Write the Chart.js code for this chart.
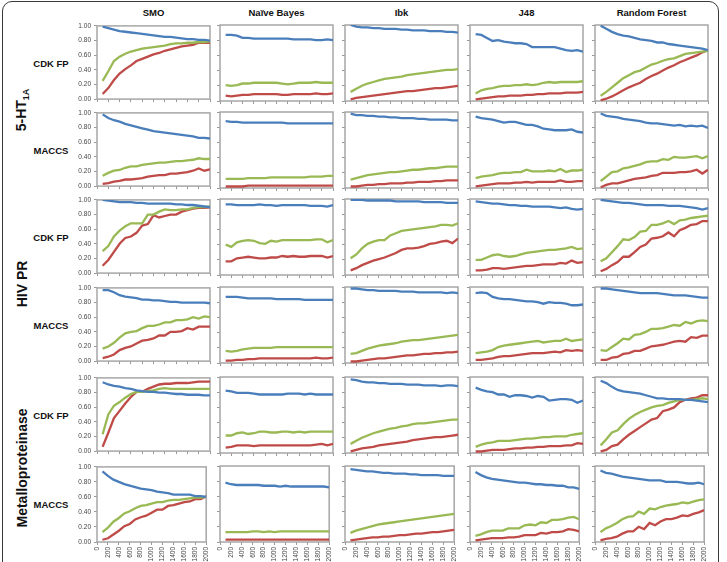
<!DOCTYPE html>
<html>
<head>
<meta charset="utf-8">
<script src="https://cdn.jsdelivr.net/npm/chart.js@4"></script>
<style>
  body { margin: 0; background: #fff; font-family: "Liberation Sans", Arial, sans-serif; }
  #wrap { position: relative; width: 727px; height: 562px; overflow: hidden; }
  #frame { position: absolute; left: 2px; top: 1px; width: 717px; height: 600px;
           border: 1.5px solid #3a3a3a; border-radius: 10px; box-sizing: border-box; }
  canvas { position: absolute; }
  .lbl { position: absolute; font-weight: bold; color: #111; white-space: nowrap; }
  .head { font-size: 9.5px; transform: translate(-50%, -50%); }
  .fp { font-size: 9.5px; transform: translate(-50%, -50%); }
  .target { font-size: 14px; transform: translate(-50%, -50%) rotate(-90deg); }
  sub { font-size: 9px; vertical-align: -3px; }
</style>
</head>
<body>
<div id="wrap"><div id="frame"></div></div>
<script>
// training set sizes (x) and labels
const xValues = [100, 200, 300, 400, 500, 600, 700, 800, 900, 1000, 1100, 1200, 1300, 1400, 1500, 1600, 1700, 1800, 1900, 2000];
const classifiers = ['SMO', 'Naïve Bayes', 'Ibk', 'J48', 'Random Forest'];
const targets = ['5-HT<sub>1A</sub>', 'HIV PR', 'Metalloproteinase'];
const fingerprints = ['CDK FP', 'MACCS'];

// rows: 5-HT1A CDK, 5-HT1A MACCS, HIV CDK, HIV MACCS, Metallo CDK, Metallo MACCS
const smoBlue = [
  [0.99,0.97,0.95,0.93,0.92,0.91,0.90,0.89,0.88,0.87,0.86,0.85,0.85,0.84,0.83,0.82,0.82,0.81,0.81,0.80],
  [0.98,0.93,0.90,0.88,0.85,0.83,0.81,0.79,0.77,0.75,0.74,0.73,0.72,0.71,0.70,0.69,0.68,0.66,0.66,0.65],
  [1.00,0.99,0.98,0.97,0.97,0.97,0.96,0.96,0.95,0.95,0.95,0.95,0.95,0.94,0.94,0.93,0.93,0.92,0.91,0.90],
  [0.97,0.97,0.94,0.90,0.88,0.87,0.86,0.84,0.84,0.83,0.83,0.82,0.81,0.81,0.80,0.80,0.80,0.80,0.80,0.79],
  [0.94,0.91,0.89,0.88,0.86,0.85,0.83,0.82,0.81,0.81,0.80,0.80,0.79,0.78,0.78,0.77,0.77,0.77,0.76,0.76],
  [0.94,0.88,0.83,0.80,0.77,0.75,0.73,0.71,0.70,0.69,0.67,0.66,0.65,0.63,0.63,0.63,0.63,0.61,0.61,0.60]
];
const smoGreen = [
  [0.25,0.38,0.52,0.58,0.62,0.65,0.67,0.69,0.70,0.71,0.72,0.73,0.75,0.76,0.76,0.77,0.77,0.78,0.78,0.79],
  [0.14,0.18,0.21,0.22,0.25,0.27,0.27,0.29,0.30,0.31,0.32,0.32,0.33,0.34,0.34,0.35,0.36,0.38,0.37,0.37],
  [0.30,0.37,0.50,0.58,0.64,0.68,0.68,0.68,0.80,0.80,0.84,0.87,0.86,0.86,0.87,0.87,0.89,0.90,0.90,0.91],
  [0.17,0.20,0.25,0.32,0.38,0.40,0.41,0.45,0.48,0.48,0.50,0.53,0.53,0.56,0.56,0.57,0.60,0.58,0.61,0.60],
  [0.23,0.50,0.62,0.67,0.73,0.78,0.81,0.81,0.82,0.83,0.85,0.86,0.85,0.85,0.85,0.85,0.85,0.85,0.85,0.85],
  [0.13,0.19,0.27,0.32,0.38,0.41,0.45,0.48,0.49,0.51,0.53,0.53,0.55,0.56,0.56,0.57,0.58,0.59,0.59,0.60]
];
const smoRed = [
  [0.07,0.15,0.26,0.35,0.41,0.46,0.52,0.55,0.58,0.61,0.63,0.66,0.68,0.70,0.72,0.73,0.74,0.77,0.77,0.77],
  [0.03,0.04,0.06,0.07,0.09,0.09,0.10,0.11,0.13,0.14,0.15,0.15,0.17,0.17,0.18,0.19,0.21,0.24,0.21,0.23],
  [0.10,0.18,0.29,0.40,0.48,0.50,0.55,0.65,0.67,0.79,0.76,0.78,0.80,0.80,0.84,0.86,0.88,0.89,0.89,0.90],
  [0.04,0.06,0.09,0.15,0.18,0.20,0.24,0.28,0.29,0.31,0.35,0.35,0.40,0.40,0.41,0.45,0.43,0.47,0.47,0.47],
  [0.06,0.25,0.45,0.55,0.65,0.74,0.81,0.81,0.85,0.88,0.91,0.92,0.92,0.93,0.93,0.93,0.94,0.95,0.95,0.95],
  [0.03,0.05,0.10,0.15,0.21,0.24,0.30,0.33,0.35,0.39,0.43,0.43,0.48,0.49,0.51,0.53,0.54,0.57,0.57,0.61]
];

const nbBlue = [
  [0.87,0.87,0.86,0.83,0.83,0.82,0.82,0.82,0.82,0.82,0.82,0.82,0.81,0.81,0.81,0.81,0.80,0.80,0.81,0.80],
  [0.88,0.87,0.87,0.86,0.86,0.86,0.86,0.86,0.86,0.86,0.86,0.85,0.85,0.85,0.85,0.85,0.85,0.85,0.85,0.85],
  [0.93,0.93,0.92,0.92,0.92,0.92,0.93,0.92,0.92,0.91,0.92,0.92,0.92,0.92,0.92,0.91,0.91,0.91,0.90,0.92],
  [0.87,0.87,0.87,0.86,0.85,0.85,0.85,0.85,0.85,0.84,0.84,0.84,0.84,0.84,0.83,0.83,0.83,0.83,0.83,0.83],
  [0.82,0.81,0.79,0.79,0.79,0.78,0.77,0.77,0.77,0.77,0.77,0.78,0.78,0.78,0.77,0.78,0.77,0.77,0.77,0.77],
  [0.78,0.76,0.75,0.75,0.75,0.75,0.75,0.74,0.74,0.74,0.73,0.74,0.73,0.73,0.73,0.73,0.73,0.73,0.73,0.72]
];
const nbGreen = [
  [0.21,0.20,0.21,0.23,0.23,0.24,0.24,0.24,0.24,0.24,0.23,0.22,0.23,0.24,0.24,0.24,0.25,0.24,0.24,0.24],
  [0.12,0.12,0.12,0.12,0.13,0.13,0.13,0.13,0.14,0.14,0.14,0.14,0.14,0.14,0.14,0.15,0.15,0.15,0.16,0.16],
  [0.40,0.37,0.43,0.45,0.46,0.45,0.42,0.41,0.45,0.44,0.46,0.46,0.46,0.46,0.46,0.46,0.47,0.47,0.43,0.46],
  [0.16,0.15,0.16,0.18,0.19,0.20,0.20,0.20,0.20,0.21,0.21,0.21,0.21,0.21,0.21,0.21,0.21,0.21,0.21,0.21],
  [0.23,0.23,0.26,0.27,0.25,0.26,0.28,0.28,0.27,0.27,0.28,0.28,0.27,0.28,0.27,0.28,0.28,0.28,0.28,0.28],
  [0.13,0.13,0.13,0.13,0.13,0.14,0.14,0.13,0.14,0.13,0.14,0.14,0.14,0.14,0.14,0.14,0.14,0.14,0.14,0.14]
];
const nbRed = [
  [0.07,0.06,0.07,0.08,0.08,0.09,0.09,0.09,0.09,0.09,0.08,0.08,0.09,0.09,0.09,0.09,0.10,0.09,0.09,0.10],
  [0.02,0.02,0.02,0.02,0.03,0.03,0.03,0.03,0.03,0.03,0.03,0.03,0.03,0.03,0.03,0.03,0.03,0.03,0.03,0.03],
  [0.18,0.18,0.22,0.23,0.24,0.23,0.22,0.22,0.23,0.23,0.25,0.24,0.25,0.24,0.24,0.25,0.25,0.25,0.23,0.25],
  [0.03,0.03,0.04,0.04,0.05,0.05,0.06,0.06,0.06,0.06,0.06,0.06,0.06,0.06,0.06,0.06,0.07,0.06,0.06,0.07],
  [0.07,0.08,0.10,0.10,0.10,0.09,0.10,0.10,0.10,0.10,0.10,0.10,0.10,0.10,0.10,0.10,0.11,0.12,0.10,0.12],
  [0.03,0.03,0.03,0.03,0.03,0.03,0.03,0.03,0.03,0.03,0.03,0.03,0.03,0.03,0.03,0.03,0.03,0.03,0.03,0.03]
];

const ibkBlue = [
  [1.00,0.98,0.97,0.97,0.96,0.96,0.95,0.95,0.95,0.94,0.94,0.93,0.93,0.93,0.92,0.92,0.92,0.91,0.91,0.90],
  [0.98,0.96,0.96,0.95,0.95,0.94,0.94,0.93,0.93,0.92,0.92,0.92,0.91,0.91,0.90,0.90,0.90,0.90,0.89,0.89],
  [0.99,0.99,0.99,0.98,0.98,0.98,0.98,0.98,0.97,0.97,0.97,0.97,0.97,0.96,0.96,0.96,0.96,0.95,0.95,0.95],
  [0.98,0.98,0.97,0.96,0.96,0.95,0.95,0.95,0.95,0.94,0.94,0.94,0.93,0.93,0.93,0.93,0.93,0.92,0.93,0.92],
  [0.97,0.96,0.94,0.93,0.93,0.92,0.92,0.91,0.91,0.91,0.90,0.90,0.90,0.89,0.89,0.89,0.88,0.89,0.89,0.88],
  [0.96,0.95,0.94,0.93,0.93,0.92,0.91,0.91,0.90,0.90,0.90,0.89,0.89,0.88,0.88,0.88,0.88,0.87,0.87,0.87]
];
const ibkGreen = [
  [0.12,0.16,0.20,0.23,0.25,0.27,0.29,0.30,0.31,0.32,0.34,0.35,0.36,0.37,0.38,0.39,0.40,0.41,0.41,0.42],
  [0.11,0.13,0.15,0.17,0.18,0.19,0.20,0.21,0.21,0.22,0.23,0.24,0.24,0.25,0.26,0.26,0.27,0.28,0.28,0.28],
  [0.22,0.27,0.35,0.41,0.44,0.46,0.46,0.52,0.55,0.58,0.59,0.60,0.61,0.62,0.63,0.64,0.66,0.66,0.65,0.68],
  [0.12,0.13,0.16,0.19,0.21,0.23,0.24,0.25,0.26,0.28,0.29,0.30,0.30,0.31,0.32,0.33,0.34,0.35,0.36,0.37],
  [0.12,0.16,0.20,0.23,0.26,0.28,0.30,0.32,0.33,0.35,0.36,0.38,0.39,0.39,0.40,0.41,0.42,0.43,0.44,0.44],
  [0.12,0.15,0.17,0.19,0.21,0.23,0.24,0.25,0.26,0.27,0.28,0.29,0.30,0.31,0.32,0.33,0.34,0.35,0.36,0.37]
];
const ibkRed = [
  [0.02,0.04,0.05,0.06,0.07,0.08,0.09,0.10,0.11,0.12,0.13,0.13,0.14,0.15,0.16,0.17,0.17,0.18,0.19,0.20],
  [0.02,0.02,0.03,0.04,0.04,0.05,0.05,0.06,0.06,0.06,0.07,0.07,0.08,0.08,0.08,0.09,0.09,0.10,0.10,0.10],
  [0.06,0.09,0.13,0.16,0.19,0.21,0.23,0.26,0.29,0.33,0.35,0.35,0.36,0.38,0.41,0.42,0.44,0.45,0.42,0.48],
  [0.02,0.02,0.03,0.04,0.05,0.06,0.06,0.07,0.08,0.09,0.10,0.10,0.11,0.12,0.12,0.13,0.13,0.14,0.14,0.15],
  [0.02,0.04,0.06,0.07,0.08,0.10,0.11,0.12,0.13,0.14,0.15,0.17,0.18,0.19,0.20,0.21,0.21,0.22,0.23,0.24],
  [0.02,0.03,0.04,0.05,0.06,0.06,0.07,0.07,0.08,0.09,0.09,0.10,0.11,0.11,0.12,0.13,0.13,0.14,0.15,0.16]
];

const j48Blue = [
  [0.88,0.87,0.83,0.79,0.80,0.78,0.77,0.76,0.76,0.75,0.71,0.71,0.71,0.71,0.71,0.69,0.67,0.66,0.67,0.65],
  [0.94,0.92,0.91,0.90,0.88,0.86,0.87,0.87,0.85,0.83,0.83,0.81,0.78,0.77,0.76,0.76,0.76,0.77,0.74,0.73],
  [0.97,0.96,0.95,0.94,0.94,0.93,0.92,0.92,0.91,0.91,0.90,0.90,0.90,0.90,0.89,0.88,0.89,0.87,0.86,0.87],
  [0.92,0.93,0.92,0.87,0.85,0.84,0.84,0.83,0.82,0.81,0.81,0.80,0.78,0.80,0.79,0.79,0.78,0.76,0.76,0.77],
  [0.86,0.83,0.81,0.80,0.77,0.77,0.74,0.76,0.76,0.75,0.73,0.75,0.74,0.69,0.70,0.71,0.71,0.70,0.66,0.69],
  [0.92,0.88,0.85,0.83,0.82,0.81,0.80,0.79,0.78,0.78,0.77,0.76,0.76,0.75,0.75,0.74,0.74,0.72,0.72,0.70]
];
const j48Green = [
  [0.10,0.14,0.16,0.17,0.19,0.20,0.20,0.21,0.21,0.22,0.21,0.22,0.24,0.25,0.24,0.25,0.25,0.25,0.25,0.26],
  [0.13,0.15,0.16,0.17,0.19,0.20,0.20,0.21,0.21,0.24,0.22,0.22,0.22,0.23,0.22,0.25,0.21,0.23,0.23,0.24],
  [0.20,0.20,0.23,0.26,0.27,0.25,0.24,0.25,0.27,0.29,0.30,0.31,0.32,0.33,0.33,0.34,0.35,0.37,0.34,0.35],
  [0.13,0.14,0.15,0.17,0.21,0.23,0.24,0.25,0.26,0.27,0.28,0.29,0.27,0.28,0.29,0.29,0.32,0.29,0.30,0.31],
  [0.08,0.11,0.13,0.14,0.16,0.16,0.16,0.17,0.18,0.19,0.19,0.20,0.21,0.21,0.22,0.22,0.22,0.24,0.25,0.26],
  [0.08,0.10,0.13,0.15,0.15,0.15,0.18,0.18,0.18,0.22,0.23,0.22,0.26,0.25,0.29,0.29,0.30,0.32,0.33,0.30]
];
const j48Red = [
  [0.02,0.03,0.04,0.05,0.06,0.06,0.07,0.07,0.07,0.08,0.08,0.09,0.09,0.10,0.10,0.10,0.11,0.11,0.11,0.12],
  [0.02,0.03,0.04,0.05,0.06,0.06,0.06,0.07,0.07,0.08,0.07,0.08,0.08,0.08,0.08,0.10,0.08,0.08,0.09,0.09],
  [0.06,0.06,0.07,0.09,0.09,0.08,0.09,0.10,0.11,0.12,0.12,0.13,0.14,0.14,0.14,0.16,0.15,0.19,0.16,0.17],
  [0.04,0.04,0.05,0.06,0.08,0.09,0.09,0.10,0.11,0.12,0.13,0.13,0.13,0.14,0.15,0.14,0.17,0.16,0.17,0.16],
  [0.02,0.02,0.03,0.04,0.04,0.04,0.05,0.06,0.06,0.07,0.07,0.08,0.08,0.09,0.09,0.09,0.10,0.10,0.13,0.12],
  [0.02,0.03,0.04,0.05,0.05,0.05,0.06,0.06,0.07,0.09,0.09,0.09,0.12,0.11,0.13,0.13,0.14,0.17,0.16,0.14]
];

const rfBlue = [
  [0.99,0.95,0.91,0.88,0.86,0.85,0.83,0.81,0.80,0.79,0.77,0.77,0.75,0.74,0.73,0.72,0.71,0.70,0.69,0.67],
  [0.98,0.95,0.94,0.93,0.91,0.90,0.89,0.88,0.86,0.85,0.85,0.84,0.83,0.82,0.83,0.81,0.82,0.81,0.82,0.79],
  [0.99,0.98,0.97,0.96,0.95,0.95,0.94,0.93,0.92,0.92,0.92,0.92,0.91,0.91,0.91,0.90,0.89,0.88,0.86,0.88],
  [0.98,0.98,0.97,0.96,0.95,0.94,0.93,0.92,0.92,0.92,0.92,0.91,0.90,0.89,0.89,0.89,0.88,0.87,0.86,0.86],
  [0.95,0.92,0.87,0.83,0.81,0.80,0.79,0.78,0.76,0.74,0.72,0.72,0.71,0.71,0.71,0.70,0.70,0.69,0.68,0.67],
  [0.94,0.91,0.90,0.88,0.86,0.85,0.84,0.83,0.82,0.81,0.81,0.81,0.79,0.79,0.79,0.78,0.77,0.77,0.78,0.76]
];
const rfGreen = [
  [0.07,0.12,0.18,0.24,0.30,0.34,0.38,0.40,0.44,0.48,0.50,0.53,0.55,0.56,0.59,0.62,0.63,0.64,0.65,0.66],
  [0.09,0.15,0.21,0.22,0.26,0.27,0.29,0.31,0.34,0.35,0.35,0.38,0.37,0.41,0.40,0.40,0.41,0.42,0.39,0.42],
  [0.18,0.22,0.30,0.38,0.47,0.46,0.50,0.57,0.58,0.66,0.66,0.68,0.71,0.67,0.72,0.73,0.75,0.76,0.77,0.78],
  [0.17,0.16,0.21,0.26,0.32,0.31,0.37,0.38,0.41,0.45,0.45,0.46,0.48,0.50,0.49,0.54,0.52,0.55,0.56,0.55],
  [0.10,0.18,0.27,0.30,0.38,0.45,0.50,0.54,0.57,0.60,0.62,0.63,0.66,0.68,0.70,0.70,0.70,0.71,0.72,0.71],
  [0.13,0.18,0.21,0.25,0.30,0.33,0.34,0.40,0.37,0.44,0.43,0.46,0.48,0.49,0.50,0.52,0.51,0.53,0.55,0.56]
];
const rfRed = [
  [0.01,0.03,0.06,0.10,0.14,0.18,0.21,0.24,0.29,0.33,0.36,0.40,0.44,0.47,0.51,0.54,0.57,0.60,0.64,0.67],
  [0.01,0.04,0.06,0.06,0.08,0.10,0.12,0.13,0.14,0.16,0.17,0.20,0.20,0.20,0.21,0.21,0.22,0.24,0.19,0.24],
  [0.05,0.08,0.13,0.17,0.24,0.24,0.30,0.37,0.40,0.48,0.49,0.51,0.56,0.51,0.59,0.62,0.66,0.67,0.71,0.71],
  [0.04,0.04,0.07,0.08,0.12,0.13,0.16,0.16,0.19,0.22,0.23,0.24,0.26,0.28,0.29,0.28,0.34,0.33,0.36,0.36],
  [0.02,0.04,0.09,0.11,0.18,0.24,0.29,0.34,0.39,0.44,0.46,0.55,0.57,0.60,0.67,0.70,0.72,0.73,0.76,0.76],
  [0.02,0.04,0.05,0.07,0.11,0.14,0.14,0.20,0.17,0.25,0.22,0.27,0.30,0.30,0.32,0.35,0.34,0.37,0.39,0.42]
];

const seriesByColumn = [
  [smoBlue, smoGreen, smoRed],
  [nbBlue, nbGreen, nbRed],
  [ibkBlue, ibkGreen, ibkRed],
  [j48Blue, j48Green, j48Red],
  [rfBlue, rfGreen, rfRed]
];
const lineColors = ['#4a7ebb', '#98b954', '#be4b48'];

// layout of the 6x5 grid of small panels
const colLeft = [97, 220, 345, 470, 595];
const rowTop = [25, 112, 199, 287, 377, 466];
const plotW = 113, plotH = 76;
const padL = 34, padT = 6, padR = 6;

const wrap = document.getElementById('wrap');

function addLabel(cls, html, x, y) {
  const d = document.createElement('div');
  d.className = 'lbl ' + cls;
  d.innerHTML = html;
  d.style.left = x + 'px';
  d.style.top = y + 'px';
  wrap.appendChild(d);
}

classifiers.forEach((name, c) => addLabel('head', name, colLeft[c] + plotW / 2, 12));
rowTop.forEach((top, r) => addLabel('fp', fingerprints[r % 2], 51, top + plotH / 2));
const targetCenters = [110, 284, 468];
targets.forEach((t, i) => addLabel('target', t, 22, targetCenters[i]));

const boxPlugin = {
  id: 'box',
  beforeDatasetsDraw(chart) {
    const a = chart.chartArea, ctx = chart.ctx;
    ctx.save();
    ctx.strokeStyle = '#a6a6a6';
    ctx.lineWidth = 1.5;
    ctx.strokeRect(a.left, a.top, a.right - a.left, a.bottom - a.top);
    ctx.restore();
  }
};

for (let r = 0; r < 6; r++) {
  for (let c = 0; c < 5; c++) {
    const lastRow = r === 5;
    const padB = lastRow ? 36 : 5;
    const cv = document.createElement('canvas');
    const w = padL + plotW + padR, h = padT + plotH + padB;
    cv.width = w; cv.height = h;
    cv.style.width = w + 'px'; cv.style.height = h + 'px';
    cv.style.left = (colLeft[c] - padL) + 'px';
    cv.style.top = (rowTop[r] - padT) + 'px';
    wrap.appendChild(cv);

    const datasets = seriesByColumn[c].map((s, k) => ({
      data: xValues.map((x, i) => ({ x: x, y: s[r][i] })),
      borderColor: lineColors[k],
      borderWidth: 2.3,
      pointRadius: 0,
      tension: 0,
      fill: false
    }));

    new Chart(cv.getContext('2d'), {
      type: 'line',
      data: { datasets: datasets },
      options: {
        responsive: false,
        animation: false,
        events: [],
        layout: { padding: { top: padT, right: padR, left: 0, bottom: 0 } },
        plugins: { legend: { display: false }, tooltip: { enabled: false } },
        scales: {
          x: {
            type: 'linear', min: 0, max: 2000,
            afterFit: (s) => { s.height = padB; },
            grid: { display: true, drawOnChartArea: false, drawTicks: true, tickLength: 3, color: '#999' },
            border: { display: false },
            ticks: {
              display: lastRow, stepSize: 200, autoSkip: false,
              maxRotation: 90, minRotation: 90, padding: 2,
              font: { size: 6.5, family: 'Liberation Sans, Arial' }, color: '#444',
              callback: (v) => String(v)
            }
          },
          y: {
            min: 0, max: 1,
            afterFit: (s) => { s.width = padL; },
            grid: { display: true, drawOnChartArea: false, drawTicks: true, tickLength: 3, color: '#999' },
            border: { display: false },
            ticks: {
              display: c === 0, stepSize: 0.2, padding: 3,
              font: { size: 6.5, family: 'Liberation Sans, Arial' }, color: '#444',
              callback: (v) => v.toFixed(2)
            }
          }
        }
      },
      plugins: [boxPlugin]
    });
  }
}
</script>
</body>
</html>
